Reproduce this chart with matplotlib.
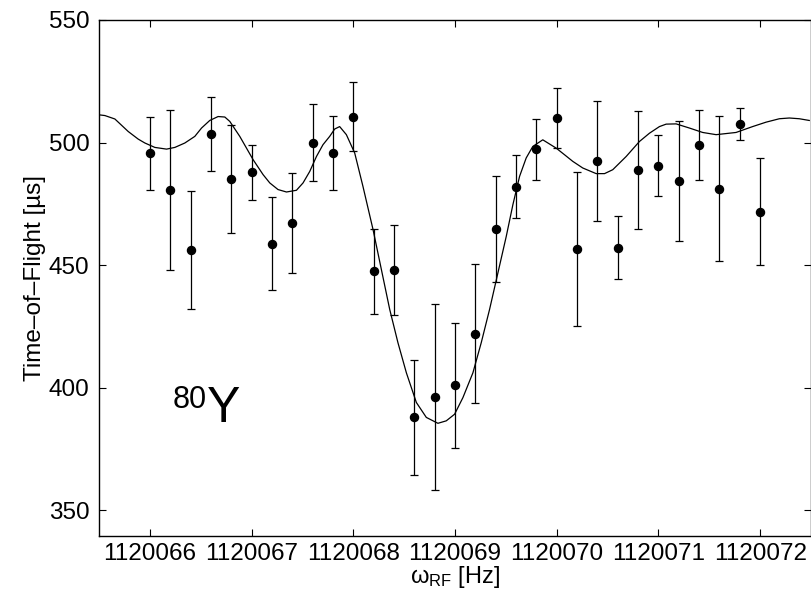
import matplotlib
matplotlib.use("Agg")
import matplotlib.pyplot as plt
from matplotlib.ticker import FixedLocator, FixedFormatter

plt.rcParams['font.family'] = ['Liberation Sans', 'DejaVu Sans']
plt.rcParams['mathtext.fontset'] = 'custom'
plt.rcParams['mathtext.rm'] = 'Liberation Sans'
plt.rcParams['mathtext.it'] = 'Liberation Sans:italic'

# measured data points
freq = [1120066.0, 1120066.2, 1120066.4, 1120066.6, 1120066.8, 1120067.0,
        1120067.2, 1120067.4, 1120067.6, 1120067.8, 1120068.0, 1120068.2,
        1120068.4, 1120068.6, 1120068.8, 1120069.0, 1120069.2, 1120069.4,
        1120069.6, 1120069.8, 1120070.0, 1120070.2, 1120070.4, 1120070.6,
        1120070.8, 1120071.0, 1120071.2, 1120071.4, 1120071.6, 1120071.8,
        1120072.0]
tof = [495.7, 480.6, 456.3, 503.4, 485.2, 487.8, 458.6, 467.3, 500.0, 495.7,
       510.6, 447.4, 448.0, 387.9, 396.0, 400.9, 422.0, 464.8, 481.9, 497.2,
       510.1, 456.7, 492.4, 457.0, 488.6, 490.5, 484.3, 499.0, 481.2, 507.6,
       471.7]
tof_err = [14.9, 32.6, 24.1, 15.0, 22.0, 11.3, 19.0, 20.4, 15.8, 15.2,
           14.2, 17.3, 18.3, 23.4, 38.0, 25.6, 28.5, 21.6, 12.8, 12.3,
           12.2, 31.4, 24.4, 12.9, 24.1, 12.4, 24.6, 14.2, 29.5, 6.5,
           21.8]

# fitted resonance curve
curve_freq = [1120065.499, 1120065.558, 1120065.656, 1120065.787, 1120065.885,
              1120065.951, 1120066.049, 1120066.164, 1120066.246, 1120066.344,
              1120066.442, 1120066.508, 1120066.589, 1120066.671, 1120066.737,
              1120066.786, 1120066.884, 1120067.015, 1120067.113, 1120067.179,
              1120067.260, 1120067.343, 1120067.441, 1120067.506, 1120067.572,
              1120067.638, 1120067.702, 1120067.768, 1120067.817, 1120067.866,
              1120067.932, 1120068.014, 1120068.095, 1120068.194, 1120068.276,
              1120068.358, 1120068.439, 1120068.522, 1120068.620, 1120068.718,
              1120068.832, 1120068.914, 1120068.996, 1120069.078, 1120069.176,
              1120069.258, 1120069.340, 1120069.422, 1120069.504, 1120069.569,
              1120069.635, 1120069.700, 1120069.765, 1120069.863, 1120069.995,
              1120070.077, 1120070.158, 1120070.256, 1120070.388, 1120070.470,
              1120070.551, 1120070.683, 1120070.813, 1120070.912, 1120071.010,
              1120071.076, 1120071.174, 1120071.305, 1120071.435, 1120071.567,
              1120071.763, 1120071.926, 1120072.058, 1120072.189, 1120072.287,
              1120072.385, 1120072.483]
curve_tof = [511.3, 511.0, 509.6, 504.5, 501.4,
             499.8, 498.0, 497.3, 498.0, 499.8,
             502.5, 505.9, 509.0, 510.6, 510.4,
             508.6, 502.5, 493.0, 486.9, 483.5,
             480.8, 479.8, 480.5, 483.5, 488.2,
             494.3, 499.1, 502.5, 505.5, 506.5,
             503.2, 495.7, 482.1, 464.5, 448.2,
             431.9, 418.3, 406.0, 393.9, 387.8,
             385.4, 386.4, 389.1, 395.9, 406.0,
             418.3, 431.9, 446.8, 461.7, 474.6,
             486.2, 493.7, 498.4, 501.1, 497.7,
             495.0, 492.3, 489.6, 487.3, 487.3,
             488.9, 494.3, 500.4, 503.8, 506.5,
             507.5, 507.6, 505.9, 504.1, 503.2,
             504.1, 506.5, 508.3, 509.7, 510.0,
             509.7, 509.0]

x_ticks = [1120066, 1120067, 1120068, 1120069, 1120070, 1120071, 1120072]
x_tick_labels = ['1120066', '1120067', '1120068', '1120069', '1120070',
                 '1120071', '1120072']
y_ticks = [350, 400, 450, 500, 550]
y_tick_labels = ['350', '400', '450', '500', '550']

fig = plt.figure(figsize=(8.11, 5.92), dpi=100)
ax = fig.add_axes([99 / 811, 56 / 592, 712 / 811, 516 / 592])

ax.plot(curve_freq, curve_tof, color='black', lw=0.9, zorder=2)
ax.errorbar(freq, tof, yerr=tof_err, fmt='o', color='black', ms=5.8,
            elinewidth=0.9, capsize=2.6, capthick=0.9, zorder=3)

ax.set_xlim(1120065.5, 1120072.5)
ax.set_ylim(339.4, 550)
ax.xaxis.set_major_locator(FixedLocator(x_ticks))
ax.xaxis.set_major_formatter(FixedFormatter(x_tick_labels))
ax.yaxis.set_major_locator(FixedLocator(y_ticks))
ax.yaxis.set_major_formatter(FixedFormatter(y_tick_labels))
ax.tick_params(direction='in', length=5, width=0.8, top=True, right=True,
               labelsize=17.5)
ax.tick_params(axis='x', pad=5)
ax.tick_params(axis='y', pad=7)
for s in ax.spines.values():
    s.set_linewidth(1.0)

ax.set_ylabel('Time\u2013of\u2013Flight [\u00b5s]', fontsize=17.5, labelpad=2)
ax.set_xlabel('\u03c9$_{\\rm RF}$ [Hz]', fontsize=17, labelpad=-1)

ax.text(0.151, 0.248, '80', transform=ax.transAxes, ha='right',
        va='baseline', fontsize=22)
ax.text(0.152, 0.221, 'Y', transform=ax.transAxes, ha='left',
        va='baseline', fontsize=36)

fig.savefig('out.png', dpi=100)
